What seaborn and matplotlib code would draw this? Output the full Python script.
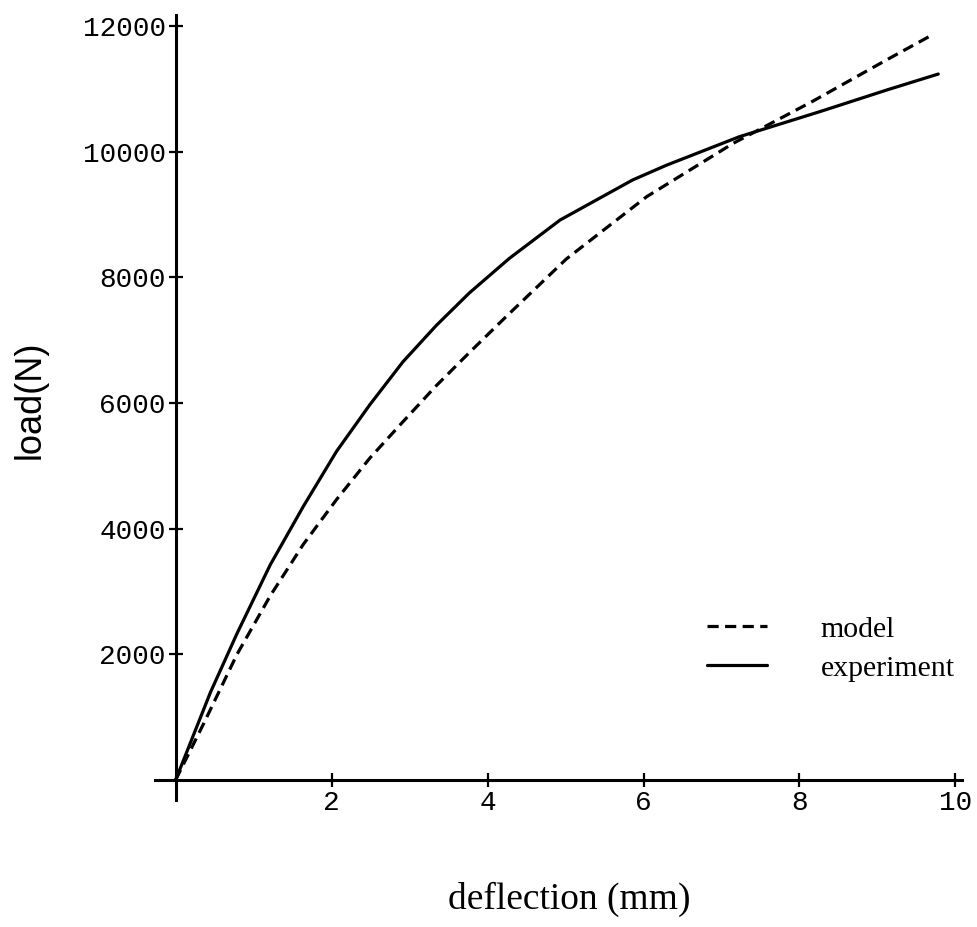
import pandas as pd
import seaborn as sns
from matplotlib import pyplot as plt

# values
model_x = [0, 0.362, 0.787, 1.213, 1.638, 2.064, 2.489, 2.915, 3.34, 3.766, 4.255,
           5.01, 6.04, 7.15, 8.17, 9.12, 9.70]
model_y = [0, 904, 1999, 2930, 3751, 4463, 5120, 5700, 6271, 6800, 7393,
           8290, 9281, 10130, 10800, 11460, 11854]

experiment_x = [0, 0.447, 0.787, 1.213, 1.638, 2.064, 2.489, 2.915, 3.34, 3.766, 4.277,
                4.93, 5.86, 6.29, 7.23, 8.26, 9.12, 9.78]
experiment_y = [0, 1396, 2330, 3423, 4354, 5230, 5969, 6654, 7229, 7749, 8297,
                8910, 9547, 9780, 10236, 10634, 10979, 11233]

x_ticks = [2, 4, 6, 8, 10]
y_ticks = [2000, 4000, 6000, 8000, 10000, 12000]

model = pd.DataFrame({'deflection': model_x, 'load': model_y})
experiment = pd.DataFrame({'deflection': experiment_x, 'load': experiment_y})

sns.set_style('white')
plt.rcParams['text.color'] = 'black'
plt.rcParams['xtick.color'] = 'black'
plt.rcParams['ytick.color'] = 'black'
plt.rcParams['axes.labelcolor'] = 'black'

fig = plt.figure(figsize=(9.77, 9.27), dpi=100)
ax = fig.add_axes([0.1586, 0.1370, 0.8257, 0.8468])

sns.lineplot(data=model, x='deflection', y='load', ax=ax, color='black',
             linewidth=2.3, linestyle=(0, (3.5, 2)), label='model')
sns.lineplot(data=experiment, x='deflection', y='load', ax=ax, color='black',
             linewidth=2.3, label='experiment')

ax.set_xlim(-0.265, 10.08)
ax.set_ylim(-318, 12172)

# axes crossing at the origin
for side in ['top', 'right']:
    ax.spines[side].set_visible(False)
for side in ['left', 'bottom']:
    ax.spines[side].set_position(('data', 0))
    ax.spines[side].set_color('black')
    ax.spines[side].set_linewidth(2.2)

ax.set_xticks(x_ticks)
ax.set_yticks(y_ticks)
ax.set_xticklabels([str(t) for t in x_ticks], family='Liberation Mono', fontsize=20)
ax.set_yticklabels([str(t) for t in y_ticks], family='Liberation Mono', fontsize=20)
ax.tick_params(axis='both', direction='inout', length=10, width=1.6, color='black',
               labelcolor='black', pad=2, bottom=True, left=True)

ax.set_xlabel('deflection (mm)', family='Liberation Serif', fontsize=27, va='center')
ax.xaxis.set_label_coords(0.514, -0.127)
ax.set_ylabel('load(N)', family='Liberation Sans', fontsize=26, va='center')
ax.yaxis.set_label_coords(-0.155, 0.51)

ax.legend(loc='upper left', bbox_to_anchor=(707 / 977, 1 - 616 / 927),
          bbox_transform=fig.transFigure, frameon=False,
          prop={'family': 'Liberation Serif', 'size': 21.5},
          handlelength=2.0, handletextpad=1.8, labelspacing=0.4,
          borderpad=0, borderaxespad=0)

plt.savefig('out.png')
